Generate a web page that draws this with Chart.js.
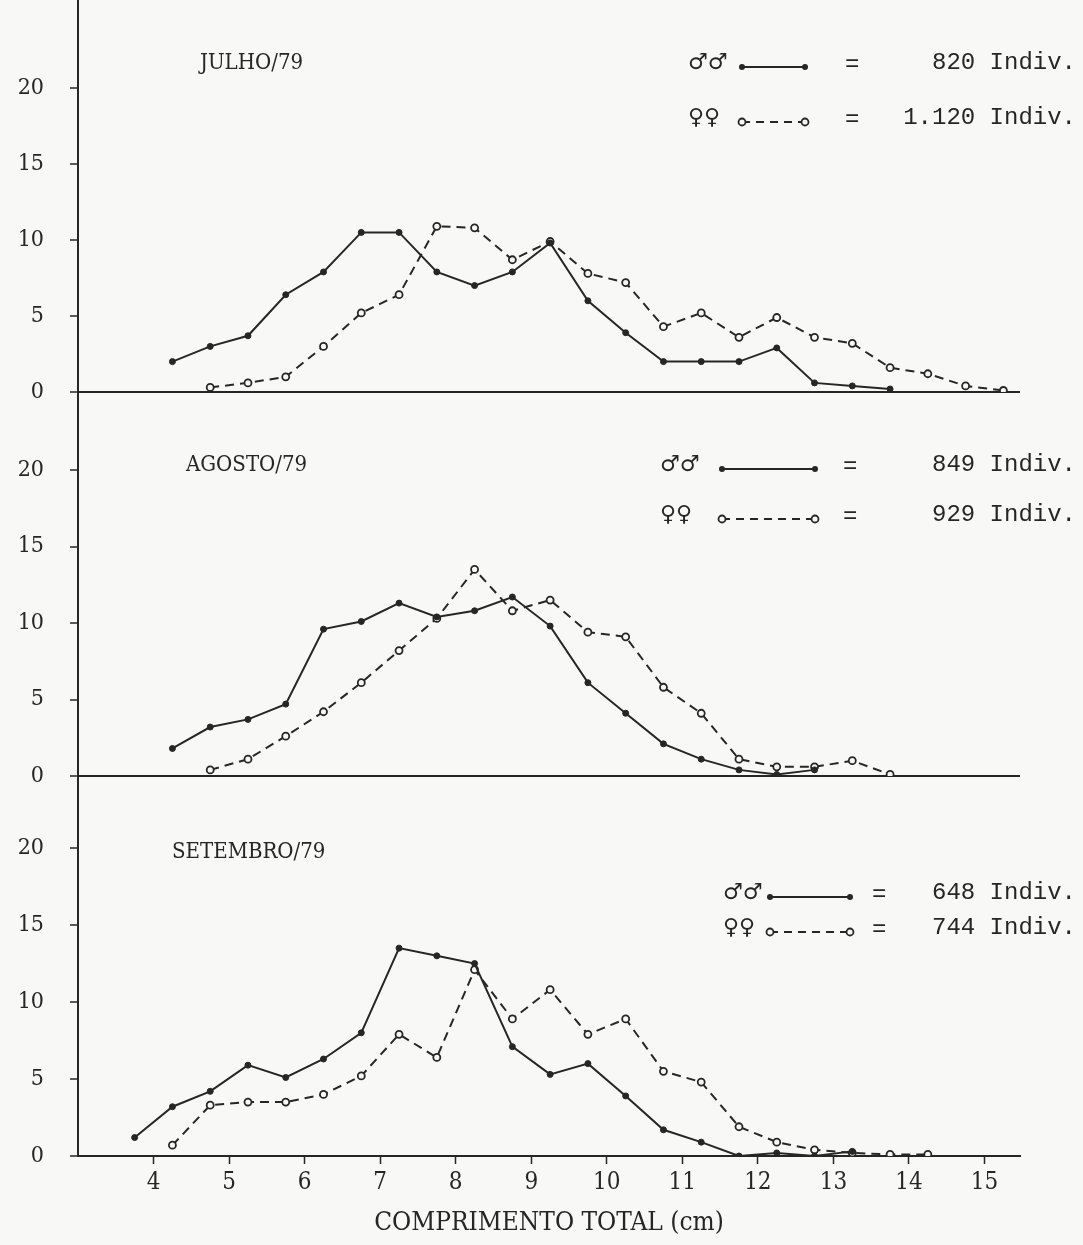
<!DOCTYPE html>
<html><head><meta charset="utf-8">
<script src="https://cdn.jsdelivr.net/npm/chart.js@4.4.1/dist/chart.umd.min.js"></script>
<style>
html,body{margin:0;padding:0;background:#f8f8f6;}
#wrap{position:relative;width:1083px;height:1245px;}
canvas{display:block;}
</style></head><body>
<div id="wrap"><canvas id="c" width="1083" height="1245"></canvas></div>
<script>
// Length classes (cm, class midpoints)
const lengthClasses = [3.75,4.25,4.75,5.25,5.75,6.25,6.75,7.25,7.75,8.25,8.75,9.25,9.75,10.25,10.75,11.25,11.75,12.25,12.75,13.25,13.75,14.25,14.75,15.25];

// Percent frequency per class
const julhoMachos  = [null,2.0,3.0,3.7,6.4,7.9,10.5,10.5,7.9,7.0,7.9,9.8,6.0,3.9,2.0,2.0,2.0,2.9,0.6,0.4,0.2,null,null,null];
const julhoFemeas  = [null,null,0.3,0.6,1.0,3.0,5.2,6.4,10.9,10.8,8.7,9.9,7.8,7.2,4.3,5.2,3.6,4.9,3.6,3.2,1.6,1.2,0.4,0.1];
const agostoMachos = [null,1.8,3.2,3.7,4.7,9.6,10.1,11.3,10.4,10.8,11.7,9.8,6.1,4.1,2.1,1.1,0.4,0.1,0.4,null,null,null,null,null];
const agostoFemeas = [null,null,0.4,1.1,2.6,4.2,6.1,8.2,10.3,13.5,10.8,11.5,9.4,9.1,5.8,4.1,1.1,0.6,0.6,1.0,0.1,null,null,null];
const setembroMachos = [1.2,3.2,4.2,5.9,5.1,6.3,8.0,13.5,13.0,12.5,7.1,5.3,6.0,3.9,1.7,0.9,0.0,0.2,0.0,0.3,null,null,null,null];
const setembroFemeas = [null,0.7,3.3,3.5,3.5,4.0,5.2,7.9,6.4,12.1,8.9,10.8,7.9,8.9,5.5,4.8,1.9,0.9,0.4,0.2,0.1,0.1,null,null];

const yTickValues = [0,5,10,15,20];
const xTickValues = [4,5,6,7,8,9,10,11,12,13,14,15];

const panelTitles = ['JULHO/79','AGOSTO/79','SETEMBRO/79'];
const maleCounts = ['820 Indiv.','849 Indiv.','648 Indiv.'];
const femaleCounts = ['1.120 Indiv.','929 Indiv.','744 Indiv.'];
const xAxisTitle = 'COMPRIMENTO TOTAL (cm)';

const INK = '#262626';
const BG = '#f8f8f6';
const condFont = "'DejaVu Serif Condensed','Liberation Sans Narrow','DejaVu Sans Condensed','Liberation Serif',serif";
const monoFont = "'Liberation Mono','DejaVu Sans Mono',monospace";
const symFont = "'DejaVu Sans','Noto Sans',sans-serif";

function toPoints(arr){
  return lengthClasses.map((x,i)=>({x:x,y:arr[i]})).filter(p=>p.y!==null);
}
function maleDs(arr, axis){
  return {data: toPoints(arr), yAxisID: axis, borderColor: INK, borderWidth: 2,
    pointRadius: 3, pointBackgroundColor: INK, pointBorderColor: INK, pointBorderWidth: 1,
    tension: 0, fill: false};
}
function femaleDs(arr, axis){
  return {data: toPoints(arr), yAxisID: axis, borderColor: INK, borderWidth: 2, borderDash: [9,6],
    pointRadius: 3.5, pointBackgroundColor: BG, pointBorderColor: INK, pointBorderWidth: 1.8,
    tension: 0, fill: false};
}

const axisWeights = {yJul:392, yAgo:384, ySet:380};
const axisMax = {yJul:25.79, yAgo:25.1, ySet:24.68};

function yAxis(id){
  return {
    type:'linear', position:'left', stack:'panels', stackWeight: axisWeights[id],
    min:0, max:axisMax[id],
    afterBuildTicks: s => { s.ticks = yTickValues.map(v=>({value:v})); },
    afterFit: s => { s.width = 78; s.paddingTop = 0; s.paddingBottom = 0; },
    ticks:{ font:{family:condFont, size:23}, color:INK, padding:26 },
    grid:{ drawOnChartArea:true,
      color: c => (c.tick && c.tick.value===0) ? INK : 'rgba(0,0,0,0)',
      lineWidth: 2, tickColor: INK, tickLength: 8, tickWidth: 1.5 },
    border:{ display:true, color:INK, width:2 }
  };
}

// panel text layout (pixels)
const textLayout = [
  {titleX:200, titleY:63, rowY:[63,118], symX:688, sample:[742,805], eqX:845, rightX:1076},
  {titleX:186, titleY:465, rowY:[465,515], symX:660, sample:[722,815], eqX:843, rightX:1076},
  {titleX:172, titleY:852, rowY:[893,928], symX:723, sample:[770,850], eqX:872, rightX:1076}
];

const panelText = {
  id:'panelText',
  afterDraw(chart){
    const ctx = chart.ctx;
    ctx.save();
    ctx.fillStyle = INK; ctx.strokeStyle = INK;
    ctx.textBaseline = 'middle';
    textLayout.forEach((L,i)=>{
      ctx.font = "22px " + condFont; ctx.textAlign='left';
      ctx.fillText(panelTitles[i], L.titleX, L.titleY);
      ctx.font = "22px " + symFont;
      ctx.fillText('\u2642\u2642', L.symX, L.rowY[0]);
      ctx.fillText('\u2640\u2640', L.symX, L.rowY[1]);
      const [a,b] = L.sample;
      ctx.setLineDash([]); ctx.lineWidth=2;
      ctx.beginPath(); ctx.moveTo(a,L.rowY[0]+4); ctx.lineTo(b,L.rowY[0]+4); ctx.stroke();
      [a,b].forEach(x=>{ctx.beginPath(); ctx.arc(x,L.rowY[0]+4,3,0,Math.PI*2); ctx.fill();});
      ctx.setLineDash([8,6]);
      ctx.beginPath(); ctx.moveTo(a,L.rowY[1]+4); ctx.lineTo(b,L.rowY[1]+4); ctx.stroke();
      ctx.setLineDash([]);
      [a,b].forEach(x=>{ctx.beginPath(); ctx.arc(x,L.rowY[1]+4,3.5,0,Math.PI*2); ctx.fillStyle=BG; ctx.fill(); ctx.lineWidth=1.8; ctx.stroke(); ctx.fillStyle=INK;});
      ctx.font = "24px " + monoFont;
      ctx.fillText('=', L.eqX, L.rowY[0]+2);
      ctx.fillText('=', L.eqX, L.rowY[1]+2);
      ctx.textAlign='right';
      ctx.fillText(maleCounts[i], L.rightX, L.rowY[0]);
      ctx.fillText(femaleCounts[i], L.rightX, L.rowY[1]);
    });
    ctx.restore();
  }
};

const cfg = {
  type:'line',
  data:{ datasets:[
    maleDs(julhoMachos,'yJul'), femaleDs(julhoFemeas,'yJul'),
    maleDs(agostoMachos,'yAgo'), femaleDs(agostoFemeas,'yAgo'),
    maleDs(setembroMachos,'ySet'), femaleDs(setembroFemeas,'ySet')
  ]},
  options:{
    responsive:false, animation:false, devicePixelRatio:1,
    layout:{ padding:{left:0,right:63,top:0,bottom:0}, autoPadding:false },
    plugins:{ legend:{display:false}, tooltip:{enabled:false} },
    scales:{
      x:{ type:'linear', position:'bottom', min:3.0, max:15.47,
        afterBuildTicks: s => { s.ticks = xTickValues.map(v=>({value:v})); },
        afterFit: s => { s.height = 89; s.paddingLeft = 0; s.paddingRight = 0; },
        ticks:{ font:{family:condFont, size:24}, color:INK, padding:4 },
        grid:{ display:true, drawOnChartArea:false, drawTicks:true, tickLength:8, color:INK, tickColor:INK, tickWidth:1.5 },
        border:{ display:true, color:INK, width:2 },
        title:{ display:true, text:xAxisTitle, font:{family:condFont, size:26}, color:INK, padding:{top:8,bottom:6} }
      },
      ySet: yAxis('ySet'), yAgo: yAxis('yAgo'), yJul: yAxis('yJul')
    }
  },
  plugins:[panelText]
};
new Chart(document.getElementById('c'), cfg);
</script>
</body></html>
